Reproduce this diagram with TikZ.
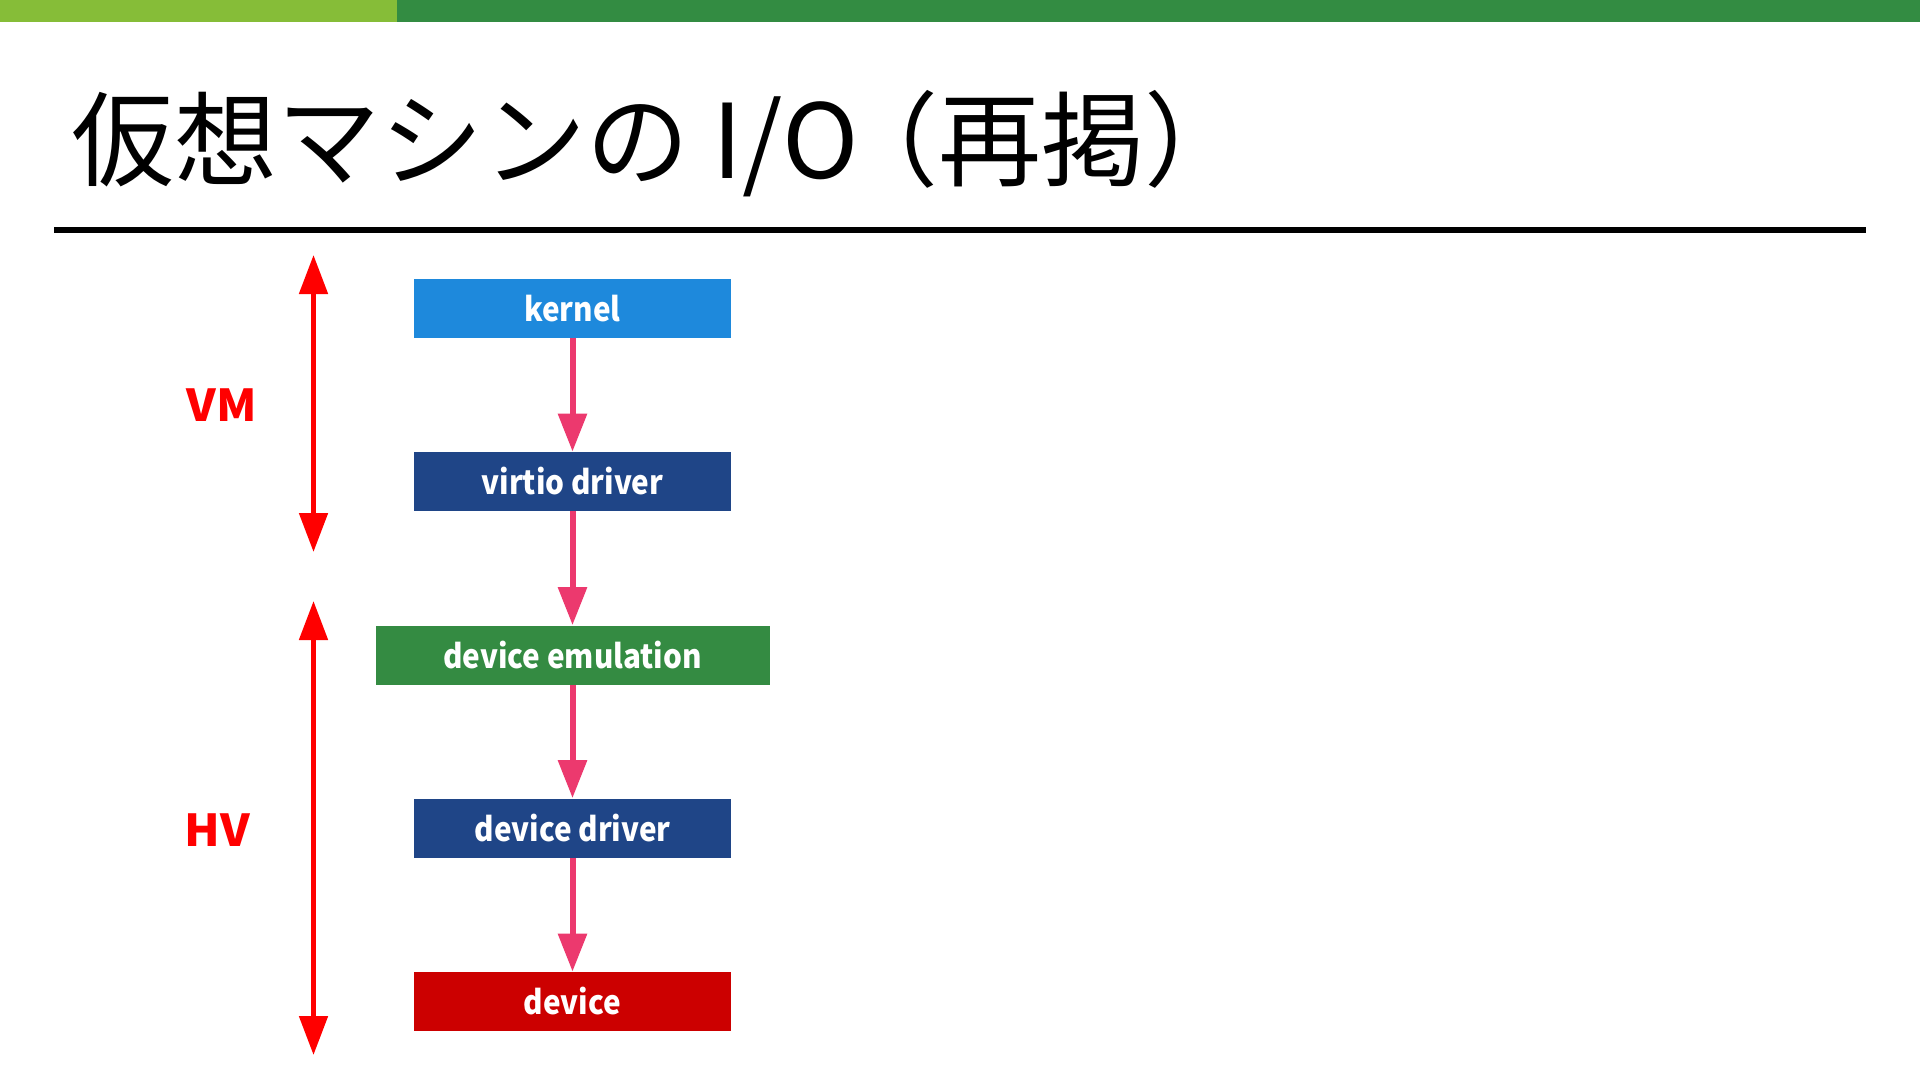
\documentclass[tikz,border=0pt]{standalone}
\usepackage{fontspec}
\usetikzlibrary{arrows.meta}
\setmainfont{Noto Sans CJK JP}
\newfontfamily\titlefont{Noto Sans CJK JP}
\newfontfamily\boxfont[FakeStretch=0.9]{Noto Sans CJK JP}
\newfontfamily\lblfont[FakeStretch=1.05]{Noto Sans CJK JP}
\definecolor{barlight}{RGB}{134,189,56}
\definecolor{bardark}{RGB}{51,140,66}
\definecolor{kblue}{RGB}{30,137,220}
\definecolor{navy}{RGB}{31,69,135}
\definecolor{emugreen}{RGB}{52,139,66}
\definecolor{devred}{RGB}{204,0,0}
\definecolor{flowpink}{RGB}{236,57,110}
\definecolor{lblred}{RGB}{255,0,0}
\tikzset{
  layerbox/.style={rectangle, inner sep=0pt, minimum width=158.5pt, minimum height=29.5pt,
    text=white, font=\boxfont\bfseries\fontsize{16.5pt}{18pt}\selectfont},
  flow/.style={draw=flowpink, line width=3pt, -{Triangle[width=14pt,length=19pt]}},
  span/.style={draw=lblred, line width=2.5pt, {Triangle[width=14pt,length=19.5pt]}-{Triangle[width=14pt,length=19.5pt]}},
  sidelbl/.style={text=lblred, font=\lblfont\bfseries\fontsize{22pt}{24pt}\selectfont}
}
\begin{document}
\begin{tikzpicture}[x=0.5pt,y=-0.5pt]
\useasboundingbox (0,0) rectangle (1920,1081);
\fill[white] (0,0) rectangle (1920,1081);
% top bar
\fill[barlight] (0,0) rectangle (397,22);
\fill[bardark] (397,0) rectangle (1920,22);
% title
\node[anchor=base west, inner sep=0pt, font=\titlefont\fontsize{51.5pt}{60pt}\selectfont] (title) at (71,178) {仮想マシンの I/O\hspace{-0.22em}（再掲）};
\draw[line width=2.7pt] (54,230) -- (1866,230);
% boxes
\node[layerbox, fill=kblue] (kernel) at (572.5,308.5) {kernel};
\node[layerbox, fill=navy] (virtio) at (572.5,481.5) {virtio driver};
\node[layerbox, fill=emugreen, minimum width=197pt] (emu) at (572.5,655) {device emulation};
\node[layerbox, fill=navy] (ddrv) at (572.5,828) {device driver};
\node[layerbox, fill=devred] (dev) at (572.5,1001.5) {device};
% flow arrows
\draw[flow] (kernel) -- (virtio);
\draw[flow] (virtio) -- (emu);
\draw[flow] (emu) -- (ddrv);
\draw[flow] (ddrv) -- (dev);
% spans
\coordinate (vmtop) at (313.5,255);
\coordinate (vmbot) at (313.5,552);
\coordinate (hvtop) at (313.5,601);
\coordinate (hvbot) at (313.5,1055);
\draw[span] (vmtop) -- (vmbot);
\draw[span] (hvtop) -- (hvbot);
\node[sidelbl] (vm) at (222,405) {VM};
\node[sidelbl] (hv) at (217,830) {HV};
\end{tikzpicture}
\end{document}
